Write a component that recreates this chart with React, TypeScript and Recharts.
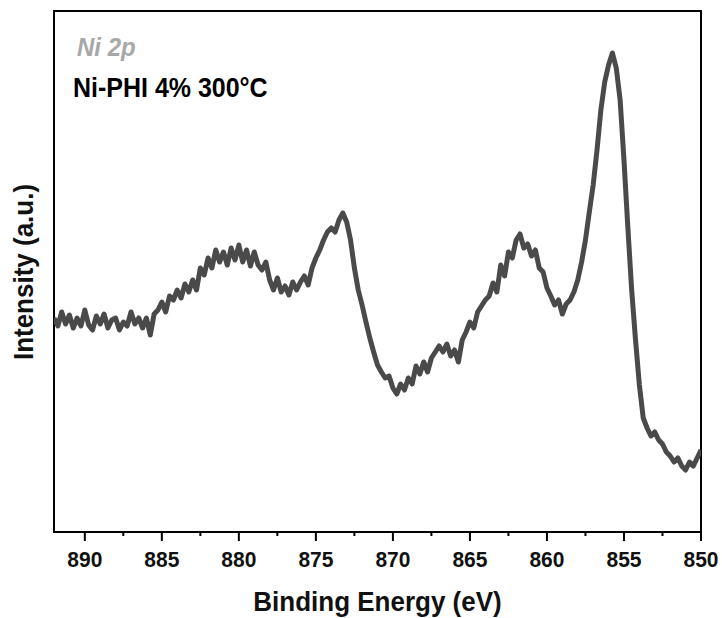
import React from 'react';
import { LineChart, Line, XAxis, YAxis, ReferenceArea } from 'recharts';

// Binding energy grid (eV), descending from 892 in 0.25 eV steps
const energyStart = 892;
const energyStep = 0.25;

// Intensity (a.u.), one value per grid point
const intensity: number[] = [
  214, 206, 220, 208, // 892
  217, 204, 214, 206, // 891
  222, 207, 202, 216, // 890
  208, 218, 204, 212, // 889
  214, 202, 210, 206, // 888
  220, 208, 214, 204, // 887
  214, 197, 218, 222, // 886
  230, 220, 236, 232, // 885
  242, 234, 248, 240, // 884
  252, 242, 264, 257, // 883
  274, 264, 282, 270, // 882
  280, 267, 284, 272, // 881
  287, 270, 282, 266, // 880
  280, 267, 262, 270, // 879
  252, 242, 254, 240, // 878
  246, 237, 250, 242, // 877
  250, 256, 247, 264, // 876
  274, 282, 292, 300, // 875
  304, 300, 312, 319, // 874
  310, 292, 264, 242, // 873
  227, 210, 194, 180, // 872
  167, 160, 154, 156, // 871
  144, 138, 148, 142, // 870
  154, 148, 166, 158, // 869
  170, 160, 174, 180, // 868
  186, 180, 188, 176, // 867
  182, 170, 192, 200, // 866
  210, 204, 220, 226, // 865
  232, 236, 249, 240, // 864
  267, 256, 280, 274, // 863
  292, 298, 284, 288, // 862
  276, 282, 264, 260, // 861
  244, 236, 227, 232, // 860
  218, 228, 232, 240, // 859
  252, 270, 292, 320, // 858
  347, 382, 422, 450, // 857
  467, 479, 464, 432, // 856
  372, 305, 242, 192, // 855
  147, 114, 104, 96, // 854
  100, 92, 88, 80, // 853
  76, 70, 74, 66, // 852
  62, 70, 66, 74, // 851
  82, // 850
];

const majorTicks = [890, 885, 880, 875, 870, 865, 860, 855, 850];
const minorTicks = [887.5, 882.5, 877.5, 872.5, 867.5, 862.5, 857.5, 852.5];
const allTicks = [...majorTicks, ...minorTicks].sort((a, b) => b - a);

const xDomain = [850, 892];
const yDomain = [0, 521];

const titleText = 'Ni 2p';
const sampleText = 'Ni-PHI 4% 300°C';
const xTitle = 'Binding Energy (eV)';
const yTitle = 'Intensity (a.u.)';

const data = intensity.map((v, i) => ({ e: energyStart - i * energyStep, v }));

const FONT = '"Liberation Sans", Arial, sans-serif';

const Tick = (props: any) => {
  const { x, y, payload } = props;
  const major = majorTicks.includes(payload.value);
  return (
    <g>
      <line x1={x} x2={x} y1={y} y2={y + (major ? 9 : 4)} stroke="#000" strokeWidth={2} />
      {major && (
        <text
          transform={`translate(${x},${y + 35}) scale(1,1.08)`}
          textAnchor="middle"
          fontSize={21}
          fontWeight="bold"
          fill="#111"
          fontFamily={FONT}
        >
          {payload.value}
        </text>
      )}
    </g>
  );
};

export default function App() {
  return (
    <div style={{ position: 'absolute', left: 0, top: 0, width: 722, height: 618, background: '#fff' }}>
      <LineChart
        width={722}
        height={618}
        data={data}
        margin={{ top: 11, right: 21, left: 54, bottom: 0 }}
      >
        <XAxis
          dataKey="e"
          type="number"
          domain={xDomain}
          reversed
          ticks={allTicks}
          interval={0}
          tickSize={0}
          tickMargin={0}
          tickLine={false}
          tick={<Tick />}
          height={86}
          axisLine={{ stroke: '#000', strokeWidth: 2 }}
          allowDataOverflow
        />
        <YAxis hide type="number" domain={yDomain} allowDataOverflow />
        <ReferenceArea
          x1={892}
          x2={850}
          y1={0}
          y2={521}
          fill="none"
          fillOpacity={0}
          stroke="#000"
          strokeWidth={2}
          ifOverflow="visible"
        />
        <Line
          type="linear"
          dataKey="v"
          stroke="#4a4a4a"
          strokeWidth={5}
          strokeLinejoin="round"
          dot={false}
          isAnimationActive={false}
        />
      </LineChart>
      <svg
        width={722}
        height={618}
        style={{ position: 'absolute', left: 0, top: 0, pointerEvents: 'none' }}
      >
        <text transform="translate(77,56) scale(1,1.08)" fontSize={24} fontStyle="italic" fontWeight="bold" fill="#a8a8a8" fontFamily={FONT}>
          {titleText}
        </text>
        <text transform="translate(73,97) scale(1,1.08)" fontSize={25} fontWeight="bold" fill="#000" fontFamily={FONT}>
          {sampleText}
        </text>
        <text transform="translate(377.5,611) scale(1,1.08)" textAnchor="middle" fontSize={26} fontWeight="bold" fill="#111" fontFamily={FONT}>
          {xTitle}
        </text>
        <text
          transform="translate(33,272) rotate(-90) scale(1,1.06)"
          textAnchor="middle"
          fontSize={26}
          fontWeight="bold"
          fill="#111"
          fontFamily={FONT}
        >
          {yTitle}
        </text>
      </svg>
    </div>
  );
}
